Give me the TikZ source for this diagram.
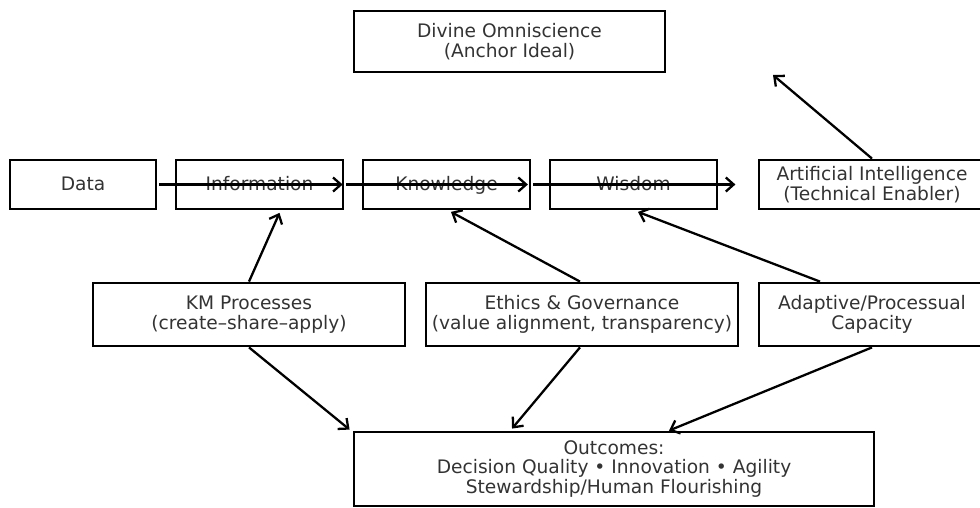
\documentclass[tikz,border=0pt]{standalone}
\usepackage{fontspec}
\setmainfont{DejaVu Sans}
\usepackage{tikz}
\usetikzlibrary{arrows.meta,positioning}
\definecolor{txtgray}{HTML}{333333}

\begin{document}
\begin{tikzpicture}[x=0.02cm, y=-0.02cm,
			box/.style={draw, line width=1.6pt, inner sep=0pt, align=center,
				text=txtgray, font=\fontsize{10.6}{11.3}\selectfont},
			word/.style={text height=0.85em, text depth=0.15em},
			link/.style={->, line width=1.3pt},
			>={Straight Barb[length=4.5pt,width=8pt,line width=1.3pt]}]
		\useasboundingbox (0,0) rectangle (980,507);
		% anchor ideal
		\node[box, minimum width=0.02*311cm, minimum height=0.02*61cm] (divine) at (509.5,41.5)
			{Divine Omniscience\\(Anchor Ideal)};
		% the chain
		\node[box, word, minimum width=0.02*146cm, minimum height=0.02*49cm] (data) at (83,184.5) {Data};
		\node[box, word, minimum width=0.02*167cm, minimum height=0.02*49cm] (info) at (259.5,184.5) {Information};
		\node[box, word, minimum width=0.02*167cm, minimum height=0.02*49cm] (know) at (446.5,184.5) {Knowledge};
		\node[box, word, minimum width=0.02*167cm, minimum height=0.02*49cm] (wis) at (633.5,184.5) {Wisdom};
		\node[box, minimum width=0.02*226cm, minimum height=0.02*49cm] (ai) at (872,184.5)
			{Artificial Intelligence\\(Technical Enabler)};
		% supporting row
		\node[box, minimum width=0.02*312cm, minimum height=0.02*63cm] (km) at (249,314.5)
			{KM Processes\\(create--share--apply)};
		\node[box, minimum width=0.02*312cm, minimum height=0.02*63cm] (ethics) at (582,314.5)
			{Ethics \& Governance\\(value alignment, transparency)};
		\node[box, minimum width=0.02*226cm, minimum height=0.02*63cm] (adapt) at (872,314.5)
			{Adaptive/Processual\\Capacity};
		\node[box, minimum width=0.02*520cm, minimum height=0.02*74cm] (out) at (614,469)
			{Outcomes:\\Decision Quality • Innovation • Agility\\Stewardship/Human Flourishing};
		\coordinate (aitip) at (773,75);

		\draw[link, shorten <=1pt, shorten >=1pt] (data.east) -- (info.east);
		\draw[link, shorten <=1pt, shorten >=2pt] (info.east) -- (know.east);
		\draw[link, shorten <=1pt] (know.east) -- ([xshift=0.34cm]wis.east);
		\draw[link] (ai.north) -- (aitip);

		\draw[link] (km.north) -- ([xshift=0.4cm, yshift=-0.05cm]info.south);
		\draw[link] ([xshift=-0.04cm]ethics.north) -- ([xshift=0.09cm, yshift=-0.03cm]know.south);
		\draw[link] ([xshift=-1.04cm]adapt.north) -- ([xshift=0.09cm, yshift=-0.03cm]wis.south);
		\draw[link] (km.south) -- ([xshift=-0.06cm, yshift=0.02cm]out.north west);
		\draw[link] ([xshift=-0.04cm]ethics.south) -- ([xshift=-2.04cm, yshift=0.04cm]out.north);
		\draw[link] (adapt.south) -- ([xshift=1.1cm]out.north);
\end{tikzpicture}
\end{document}
